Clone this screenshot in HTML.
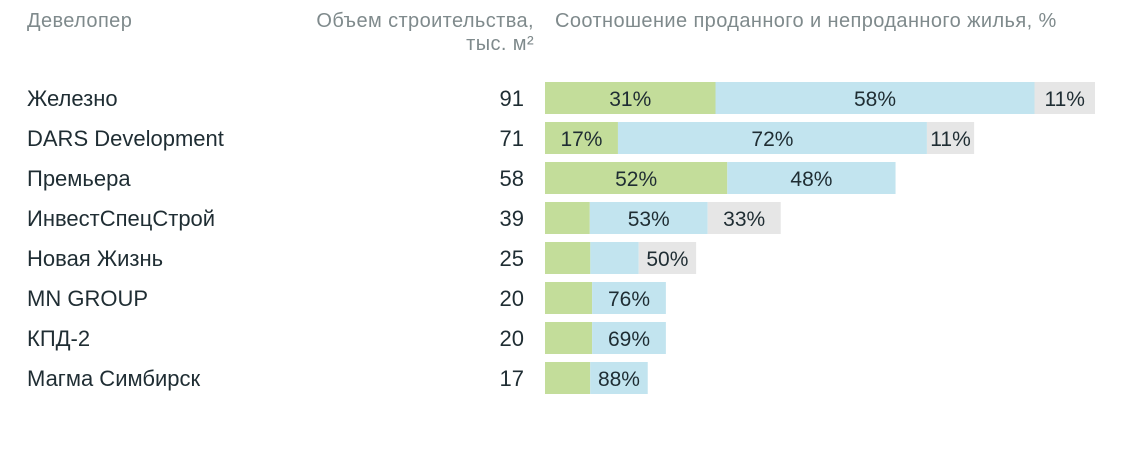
<!DOCTYPE html>
<html><head><meta charset="utf-8"><style>
body{margin:0;width:1142px;height:452px;background:#fff;font-family:"Liberation Sans",sans-serif;overflow:hidden;position:relative}
.h{position:absolute;color:#7f8a8c;font-size:20px;letter-spacing:0.4px;line-height:23px;white-space:nowrap}
</style></head><body>
<div class="h" style="left:27px;top:10px">Девелопер</div>
<div class="h" style="right:608px;top:10px;text-align:right">Объем строительства,<br>тыс. м²</div>
<div class="h" style="left:555px;top:10px">Соотношение проданного и непроданного жилья, %</div>
<svg id="chart" width="1142" height="452" style="position:absolute;left:0;top:0"></svg>
<script>
const developers=["Железно","DARS Development","Премьера","ИнвестСпецСтрой","Новая Жизнь","MN GROUP","КПД-2","Магма Симбирск"];
const volumes=[91,71,58,39,25,20,20,17];
const soldPct=[31,17,52,19,30,39,39,44];
const unsoldPct=[58,72,48,50,32,61,61,56];
const otherPct=[11,11,0,31,38,0,0,0];
const soldLabels=["31%","17%","52%","","","","",""];
const unsoldLabels=["58%","72%","48%","53%","","76%","69%","88%"];
const otherLabels=["11%","11%","","33%","50%","","",""];
const colors=["#c3dd9a","#c2e4ef","#e6e6e6"];
const svg=document.getElementById('chart');
const NS="http://www.w3.org/2000/svg";
const x0=545,pxPerUnit=550/91,y0=82,step=40,bh=32;
const xScale=v=>v*pxPerUnit;
const yRow=i=>y0+i*step;
function txt(x,y,s,anchor,name,fs){const t=document.createElementNS(NS,'text');t.setAttribute('x',x);t.setAttribute('y',y);t.setAttribute('text-anchor',anchor);t.setAttribute('font-size',fs);t.setAttribute('fill','#1f2d33');t.setAttribute('font-family','Liberation Sans, sans-serif');t.textContent=s;


svg.appendChild(t);}
developers.forEach((d,i)=>{
 const y=yRow(i);
 txt(27,y+24,d,'start','developer-name',22);
 txt(524,y+24,String(volumes[i]),'end','volume-value',22);
 const total=xScale(volumes[i]);
 const segs=[soldPct[i],unsoldPct[i],otherPct[i]];
 const labs=[soldLabels[i],unsoldLabels[i],otherLabels[i]];
 const sum=segs.reduce((a,b)=>a+b,0);
 let x=x0;
 segs.forEach((p,k)=>{
  const w=total*p/sum;if(w<=0)return;
  const r=document.createElementNS(NS,'rect');
  r.setAttribute('x',x);r.setAttribute('y',y);r.setAttribute('width',w);r.setAttribute('height',bh);r.setAttribute('fill',colors[k]);
  
  
  svg.appendChild(r);
  if(labs[k])txt(x+w/2,y+24,labs[k],'middle','segment-label',21);
  x+=w;
 });
});
</script>
</body></html>
